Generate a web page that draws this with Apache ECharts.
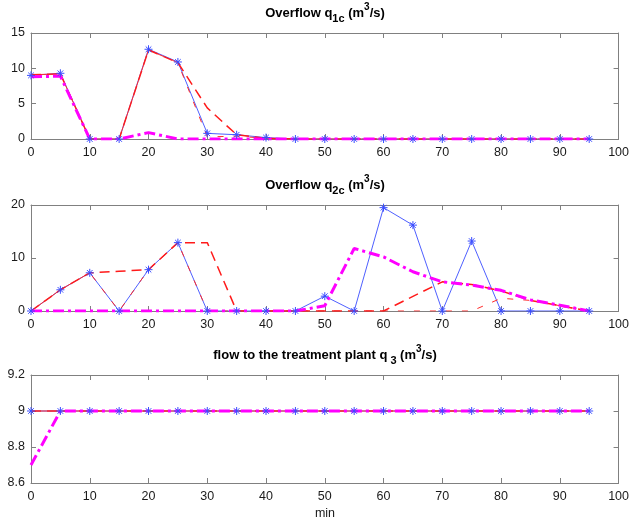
<!DOCTYPE html>
<html>
<head>
<meta charset="utf-8">
<script src="https://cdn.jsdelivr.net/npm/echarts@6/dist/echarts.min.js"></script>
<style>html,body{margin:0;padding:0;background:#fff}#c{width:632px;height:524px}</style>
</head>
<body>
<div id="c"></div>
<script>
// time axis (min)
const t = [0,5,10,15,20,25,30,35,40,45,50,55,60,65,70,75,80,85,90,95];

// Overflow q1c
const q1Blue    = [9.0,9.3,0,0,12.7,10.9,0.8,0.6,0.2,0,0,0,0,0,0,0,0,0,0,0];
const q1Red     = [9.1,9.2,0,0,12.6,10.8,0.3,0.4,0.1,0,0,0,0,0,0,0,0,0,0,0];
const q1RedDash = [9.1,9.2,0,0,12.6,10.8,4.4,0.6,0.1,0,0,0,0,0,0,0,0,0,0,0];
const q1Mag     = [8.8,8.9,0,0,0.9,0,0,0,0,0,0,0,0,0,0,0,0,0,0,0];

// Overflow q2c
const q2Blue    = [0,4.0,7.2,0,7.8,12.9,0,0,0,0,2.8,0,19.5,16.2,0,13.2,0,0,0,0];
const q2Red     = [0,4.0,7.2,0,7.8,12.9,0,0,0,0,0,0,0,0,0,0,2.4,2.0,1.0,0];
const q2RedDash = [0,4.0,7.2,7.5,7.8,12.9,12.9,0,0,0,0,0,0,2.75,5.5,5.0,3.8,2.0,1.0,0];
const q2Mag     = [0,0,0,0,0,0,0,0,0,0,1.0,11.8,10.2,7.4,5.5,4.9,3.9,2.1,1.1,0];

// flow to the treatment plant q3
const q3Blue    = [9,9,9,9,9,9,9,9,9,9,9,9,9,9,9,9,9,9,9,9];
const q3Red     = [9,9,9,9,9,9,9,9,9,9,9,9,9,9,9,9,9,9,9,9];
const q3RedDash = [9,9,9,9,9,9,9,9,9,9,9,9,9,9,9,9,9,9,9,9];
const q3Mag     = [8.7,9,9,9,9,9,9,9,9,9,9,9,9,9,9,9,9,9,9,9];

// axis ticks
const xTicks = {min:0, max:100, interval:10};
const yTicks = [
  {min:0, max:15, interval:5},
  {min:0, max:20, interval:10},
  {min:8.6, max:9.2, interval:0.2}
];

const FONT = 'Liberation Sans';
const AX = '#808080';
const grids = [
  {left:31, right:13, top:33, height:106},
  {left:31, right:13, top:205, height:106},
  {left:31, right:13, top:375, height:108}
];

const xAxes = [], yAxes = [];
grids.forEach((g,i)=>{
  const common = {
    type:'value',
    gridIndex:i,
    axisLine:{show:true, onZero:false, lineStyle:{color:AX, width:1}},
    axisTick:{show:true, inside:true, length:5, lineStyle:{color:AX}},
    splitLine:{show:false},
  };
  xAxes.push(Object.assign({}, common, xTicks, {position:'bottom',
    axisLabel:{show:true, color:'#1a1a1a', fontSize:12.5, fontFamily:FONT, margin:7}}));
  xAxes.push(Object.assign({}, common, xTicks, {position:'top', axisLabel:{show:false}}));
  yAxes.push(Object.assign({}, common, yTicks[i], {position:'left',
    axisLabel:{show:true, color:'#1a1a1a', fontSize:12.5, fontFamily:FONT, margin:6}}));
  yAxes.push(Object.assign({}, common, yTicks[i], {position:'right', axisLabel:{show:false}}));
});

const star = 'path://M5,0L5,10M0,5L10,5M1.5,1.5L8.5,8.5M8.5,1.5L1.5,8.5';
const pairs = arr => arr.map((v,k)=>[t[k], v]);

const sets = [
  [q1Blue,q1Red,q1RedDash,q1Mag],
  [q2Blue,q2Red,q2RedDash,q2Mag],
  [q3Blue,q3Red,q3RedDash,q3Mag]
];
const series = [];
sets.forEach((s,i)=>{
  const ax = {xAxisIndex:2*i, yAxisIndex:2*i};
  series.push(Object.assign({type:'line', data:pairs(s[0]), symbol:star, symbolSize:8,
    showAllSymbol:true, animation:false,
    lineStyle:{color:'#3a4dff', width:0.9},
    itemStyle:{color:'#3a4dff', borderColor:'#3a4dff', borderWidth:1}}, ax));
  series.push(Object.assign({type:'line', data:pairs(s[1]), symbol:'none', animation:false,
    lineStyle:{color:'#ff2a2a', width:1, type:[6,10], dashOffset:6}}, ax));
  series.push(Object.assign({type:'line', data:pairs(s[2]), symbol:'none', animation:false,
    lineStyle:{color:'#ff1a1a', width:1.5, type:[10,6], dashOffset:0}}, ax));
  series.push(Object.assign({type:'line', data:pairs(s[3]), symbol:'none', animation:false,
    lineStyle:{color:'#ff00ff', width:3, type:[11,4,3,4]}}, ax));
});

const rich = {
  a:{fontFamily:FONT, fontWeight:'bold', fontSize:13, color:'#000', lineHeight:22, verticalAlign:'middle'},
  sub:{fontFamily:FONT, fontWeight:'bold', fontSize:11, color:'#000', lineHeight:22, verticalAlign:'bottom'},
  sup:{fontFamily:FONT, fontWeight:'bold', fontSize:10, color:'#000', lineHeight:22, verticalAlign:'top'},
  m:{fontFamily:FONT, fontWeight:'normal', fontSize:12.5, color:'#1a1a1a', lineHeight:20}
};
const titles = [
  {text:'{a|Overflow q}{sub|1c}{a| (m}{sup|3}{a|/s)}', top:2},
  {text:'{a|Overflow q}{sub|2c}{a| (m}{sup|3}{a|/s)}', top:174},
  {text:'{a|flow to the treatment plant q}{sub| 3}{a| (m}{sup|3}{a|/s)}', top:344},
  {text:'{m|min}', top:504}
].map(o=>({text:o.text, left:325, top:o.top, textAlign:'center', padding:0,
  textStyle:{fontWeight:'normal', rich:rich}}));

const chart = echarts.init(document.getElementById('c'), null, {renderer:'canvas'});
chart.setOption({
  backgroundColor:'#ffffff',
  animation:false,
  title:titles,
  grid:grids,
  xAxis:xAxes,
  yAxis:yAxes,
  series:series
});
</script>
</body>
</html>
